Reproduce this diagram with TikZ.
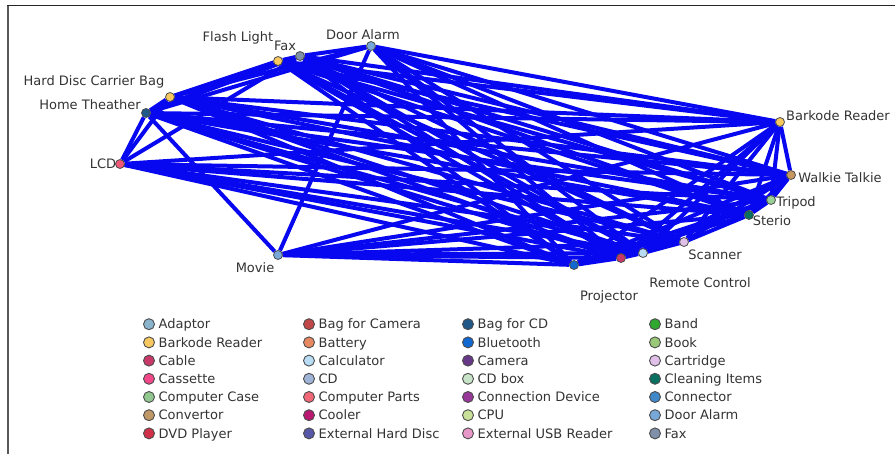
\documentclass[tikz,border=0pt]{standalone}
\usepackage{fontspec}
\setmainfont{DejaVu Sans}
\usetikzlibrary{positioning,backgrounds}

% legend colours
\definecolor{cAdaptor}{HTML}{8AB4CC}
\definecolor{cBarkode}{HTML}{F8C860}
\definecolor{cCable}{HTML}{C83868}
\definecolor{cCassette}{HTML}{F04888}
\definecolor{cCompCase}{HTML}{90C890}
\definecolor{cConvertor}{HTML}{C09868}
\definecolor{cDVD}{HTML}{D03048}
\definecolor{cBagCam}{HTML}{C04848}
\definecolor{cBattery}{HTML}{E88860}
\definecolor{cCalc}{HTML}{B8DCF4}
\definecolor{cCD}{HTML}{A0B4D8}
\definecolor{cCompParts}{HTML}{F06878}
\definecolor{cCooler}{HTML}{B81870}
\definecolor{cExtHD}{HTML}{5858A8}
\definecolor{cBagCD}{HTML}{205888}
\definecolor{cBluetooth}{HTML}{1068D0}
\definecolor{cCamera}{HTML}{683888}
\definecolor{cCDbox}{HTML}{C8E4C8}
\definecolor{cConnDev}{HTML}{983898}
\definecolor{cCPU}{HTML}{C8E098}
\definecolor{cExtUSB}{HTML}{E898C8}
\definecolor{cBand}{HTML}{30A830}
\definecolor{cBook}{HTML}{98C878}
\definecolor{cCartridge}{HTML}{E0C0E8}
\definecolor{cCleaning}{HTML}{087060}
\definecolor{cConnector}{HTML}{4088C8}
\definecolor{cDoor}{HTML}{78A8D8}
\definecolor{cFax}{HTML}{8090A8}
\definecolor{cWalkie}{HTML}{C89860}
\definecolor{cTripod}{HTML}{98D098}
\definecolor{cLCD}{HTML}{F05878}
\definecolor{cEdge}{RGB}{8,8,240}

\tikzset{
  item/.style={circle,draw=black!70,line width=0.8pt,inner sep=0pt,minimum size=9pt},
  key/.style={circle,draw=black!70,line width=0.9pt,inner sep=0pt,minimum size=11pt},
  edge/.style={draw=cEdge,line width=4pt},
  lbl/.style={text=black!80,font=\fontsize{13}{15}\selectfont,inner sep=0pt},
  keytext/.style={lbl,text height=9.5pt,text depth=0pt}
}

\begin{document}
\begin{tikzpicture}[x=1pt,y=-1pt]
  \useasboundingbox (0,0) rectangle (895,454);
  \draw[black!65,line width=2.5pt] (8,454) -- (8,5.5);
  \draw[black!85,line width=1.3pt] (6.75,5.5) -- (895,5.5);

  % items
  \node[item,fill=cDoor] (da) at (371,46) {};
  \node[item,fill=cFax] (fax) at (300,56) {};
  \node[item,fill=cBarkode] (fl) at (278,61) {};
  \node[item,fill=cBarkode] (hdcb) at (170,97) {};
  \node[item,fill=cBagCD] (ht) at (146,113) {};
  \node[item,fill=cLCD] (lcd) at (120,164) {};
  \node[item,fill=cDoor] (mv) at (278,255) {};
  \node[item,fill=cBluetooth] (pj) at (574,265) {};
  \node[item,fill=cCable] (cb) at (621,258) {};
  \node[item,fill=cCalc] (rc) at (643,253) {};
  \node[item,fill=cCartridge] (sca) at (684,242) {};
  \node[item,fill=cCleaning] (ste) at (749,215) {};
  \node[item,fill=cTripod] (tri) at (771,200) {};
  \node[item,fill=cWalkie] (wt) at (791,175) {};
  \node[item,fill=cBarkode] (br) at (780,122) {};

  \node[lbl] (da-l) at (363,35) {Door Alarm};
  \node[lbl] (fax-l) at (285,46) {Fax};
  \node[lbl] (fl-l) at (238,38) {Flash Light};
  \node[lbl] (hdcb-l) at (94,82) {Hard Disc Carrier Bag};
  \node[lbl] (ht-l) at (90,105) {Home Theather};
  \node[lbl] (lcd-l) at (103,164) {LCD};
  \node[lbl] (mv-l) at (255,268) {Movie};
  \node[lbl] (pj-l) at (609,297) {Projector};
  \node[lbl] (rc-l) at (700,283) {Remote Control};
  \node[lbl] (sca-l) at (715,255) {Scanner};
  \node[lbl] (ste-l) at (772,221) {Sterio};
  \node[lbl] (tri-l) at (796,203) {Tripod};
  \node[lbl] (wt-l) at (840,178) {Walkie Talkie};
  \node[lbl] (br-l) at (838,116) {Barkode Reader};

  % links
  \begin{scope}[on background layer]
    \foreach \a in {da,fax,fl,hdcb,ht,lcd,mv}
      \foreach \b in {br,wt,tri,ste,sca,rc,cb,pj}
        \draw[edge] (\a) -- (\b);
    \foreach \a/\b in {da/fax,fax/fl,fl/hdcb,hdcb/ht,ht/lcd,lcd/hdcb,lcd/fax,ht/mv,mv/da,ht/fax,ht/da,hdcb/da,ht/fl,
                       br/wt,br/tri,br/ste,br/sca,br/rc,br/cb,br/pj,wt/tri,wt/ste,wt/sca,wt/rc,wt/pj,tri/ste,ste/sca,
                       sca/rc,rc/cb,cb/pj,tri/pj,ste/pj,sca/pj,tri/cb}
      \draw[edge] (\a) -- (\b);
  \end{scope}

  % legend
  \foreach \t/\c [count=\i] in {Adaptor/cAdaptor,Barkode Reader/cBarkode,Cable/cCable,Cassette/cCassette,
                                Computer Case/cCompCase,Convertor/cConvertor,DVD Player/cDVD}{
    \node[key,fill=\c] (ka-\i) at (149,306+18.2*\i) {};
    \node[keytext,right=3.5pt of ka-\i] (ta-\i) {\t};
  }
  \foreach \t/\c [count=\i] in {Bag for Camera/cBagCam,Battery/cBattery,Calculator/cCalc,CD/cCD,
                                Computer Parts/cCompParts,Cooler/cCooler,External Hard Disc/cExtHD}{
    \node[key,fill=\c] (kb-\i) at (309,306+18.2*\i) {};
    \node[keytext,right=3.5pt of kb-\i] (tb-\i) {\t};
  }
  \foreach \t/\c [count=\i] in {Bag for CD/cBagCD,Bluetooth/cBluetooth,Camera/cCamera,CD box/cCDbox,
                                Connection Device/cConnDev,CPU/cCPU,External USB Reader/cExtUSB}{
    \node[key,fill=\c] (kc-\i) at (468,306+18.2*\i) {};
    \node[keytext,right=3.5pt of kc-\i] (tc-\i) {\t};
  }
  \foreach \t/\c [count=\i] in {Band/cBand,Book/cBook,Cartridge/cCartridge,Cleaning Items/cCleaning,
                                Connector/cConnector,Door Alarm/cDoor,Fax/cFax}{
    \node[key,fill=\c] (kd-\i) at (655,306+18.2*\i) {};
    \node[keytext,right=3.5pt of kd-\i] (td-\i) {\t};
  }
\end{tikzpicture}
\end{document}
